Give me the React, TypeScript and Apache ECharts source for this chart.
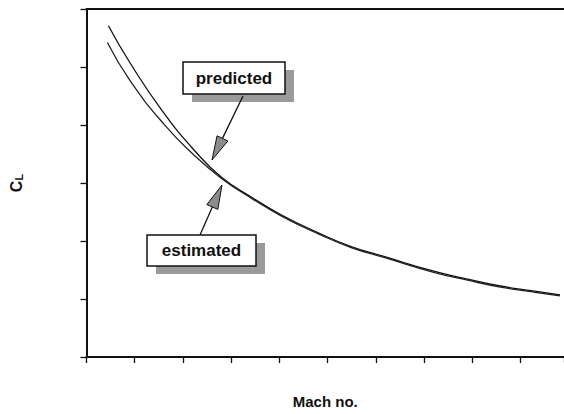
import React, { useEffect, useRef } from "react";
import * as echarts from "echarts";

const predictedX = [0.454, 0.907, 1.567, 2.248, 2.805, 3.424, 4.043, 4.806, 5.487, 6.167, 7.199, 7.899, 8.58, 9.26, 9.817];
const predictedY = [5.711, 5.065, 4.249, 3.552, 3.094, 2.754, 2.448, 2.142, 1.904, 1.734, 1.479, 1.343, 1.224, 1.139, 1.071];
const estimatedX = [0.433, 0.907, 1.609, 2.248, 2.805, 3.424, 4.043, 4.806, 5.487, 6.167, 7.199, 7.899, 8.58, 9.26, 9.817];
const estimatedY = [5.422, 4.759, 4.011, 3.467, 3.075, 2.735, 2.43, 2.124, 1.886, 1.716, 1.461, 1.325, 1.206, 1.121, 1.053];
const xTicks = { min: 0, max: 9.9, interval: 1 };
const yTicks = { min: 0, max: 6, interval: 1 };
const xTitle = "Mach no.";
const yTitle = ["C", "L"];
const labels = ["predicted", "estimated"];

const FONT = "Liberation Sans, Arial, sans-serif";

function arrow(from: number[], tip: number[], headLen: number, halfW: number) {
  const dx = tip[0] - from[0];
  const dy = tip[1] - from[1];
  const len = Math.sqrt(dx * dx + dy * dy);
  const ux = dx / len;
  const uy = dy / len;
  const bx = tip[0] - ux * headLen;
  const by = tip[1] - uy * headLen;
  const px = -uy * halfW;
  const py = ux * halfW;
  return [
    { type: "line", shape: { x1: from[0], y1: from[1], x2: bx, y2: by }, style: { stroke: "#111", lineWidth: 1.3 }, z: 10 },
    {
      type: "polygon",
      shape: { points: [tip, [bx + px, by + py], [bx - px, by - py]] },
      style: { fill: "#8c8c8c", stroke: "#111", lineWidth: 1 },
      z: 10,
    },
  ];
}

function labelBox(x: number, y: number, w: number, h: number, text: string) {
  return [
    { type: "rect", shape: { x: x + 9, y: y + 8, width: w, height: h }, style: { fill: "#9a9a9a" }, z: 10 },
    { type: "rect", shape: { x, y, width: w, height: h }, style: { fill: "#fff", stroke: "#111", lineWidth: 1.5 }, z: 11 },
    {
      type: "text",
      x: x + w / 2,
      y: y + h / 2,
      style: { text, font: `bold 17px ${FONT}`, fill: "#111", align: "center", verticalAlign: "middle" },
      z: 12,
    },
  ];
}

export default function App() {
  const ref = useRef<HTMLDivElement>(null);
  useEffect(() => {
    if (!ref.current) return;
    const chart = echarts.init(ref.current, null, { renderer: "svg" });
    const axisLine = { show: true, lineStyle: { color: "#111", width: 2 } };
    chart.setOption({
      animation: false,
      backgroundColor: "#fff",
      grid: { left: 84, right: 0, top: 9, bottom: 52, containLabel: false },
      xAxis: [
        {
          type: "value",
          min: xTicks.min,
          max: xTicks.max,
          interval: xTicks.interval,
          axisLine,
          axisTick: { show: true, inside: false, length: 6, lineStyle: { color: "#111", width: 1.3 } },
          axisLabel: { show: false },
          splitLine: { show: false },
          name: xTitle,
          nameLocation: "middle",
          nameGap: 37,
          nameTextStyle: { fontFamily: FONT, fontWeight: "bold", fontSize: 15, color: "#111" },
        },
        {
          type: "value",
          position: "top",
          min: xTicks.min,
          max: xTicks.max,
          axisLine,
          axisTick: { show: false },
          axisLabel: { show: false },
          splitLine: { show: false },
        },
      ],
      yAxis: {
        type: "value",
        min: yTicks.min,
        max: yTicks.max,
        interval: yTicks.interval,
        axisLine,
        axisTick: { show: true, inside: false, length: 6, lineStyle: { color: "#111", width: 1.3 } },
        axisLabel: { show: false },
        splitLine: { show: false },
        name: `{c|${yTitle[0]}}{s|${yTitle[1]}}`,
        nameLocation: "middle",
        nameRotate: 90,
        nameGap: 62,
        nameTextStyle: {
          rich: {
            c: { fontFamily: FONT, fontWeight: "bold", fontSize: 16, color: "#111" },
            s: { fontFamily: FONT, fontWeight: "bold", fontSize: 11, color: "#111", padding: [6, 0, 0, 0] },
          },
        },
      },
      series: [
        {
          name: labels[0],
          type: "line",
          smooth: true,
          showSymbol: false,
          data: predictedX.map((x, i) => [x, predictedY[i]]),
          lineStyle: { color: "#111", width: 1.3 },
        },
        {
          name: labels[1],
          type: "line",
          smooth: true,
          showSymbol: false,
          data: estimatedX.map((x, i) => [x, estimatedY[i]]),
          lineStyle: { color: "#222", width: 1.3 },
        },
      ],
      graphic: [
        ...labelBox(183, 62, 102, 32, labels[0]),
        ...arrow([243, 96], [212, 160], 24, 6),
        ...labelBox(147, 235, 109, 31, labels[1]),
        ...arrow([200, 235], [222, 185], 24, 6),
      ],
    });
    return () => chart.dispose();
  }, []);
  return <div ref={ref} style={{ position: "absolute", left: 0, top: 0, width: 564, height: 414 }} />;
}
